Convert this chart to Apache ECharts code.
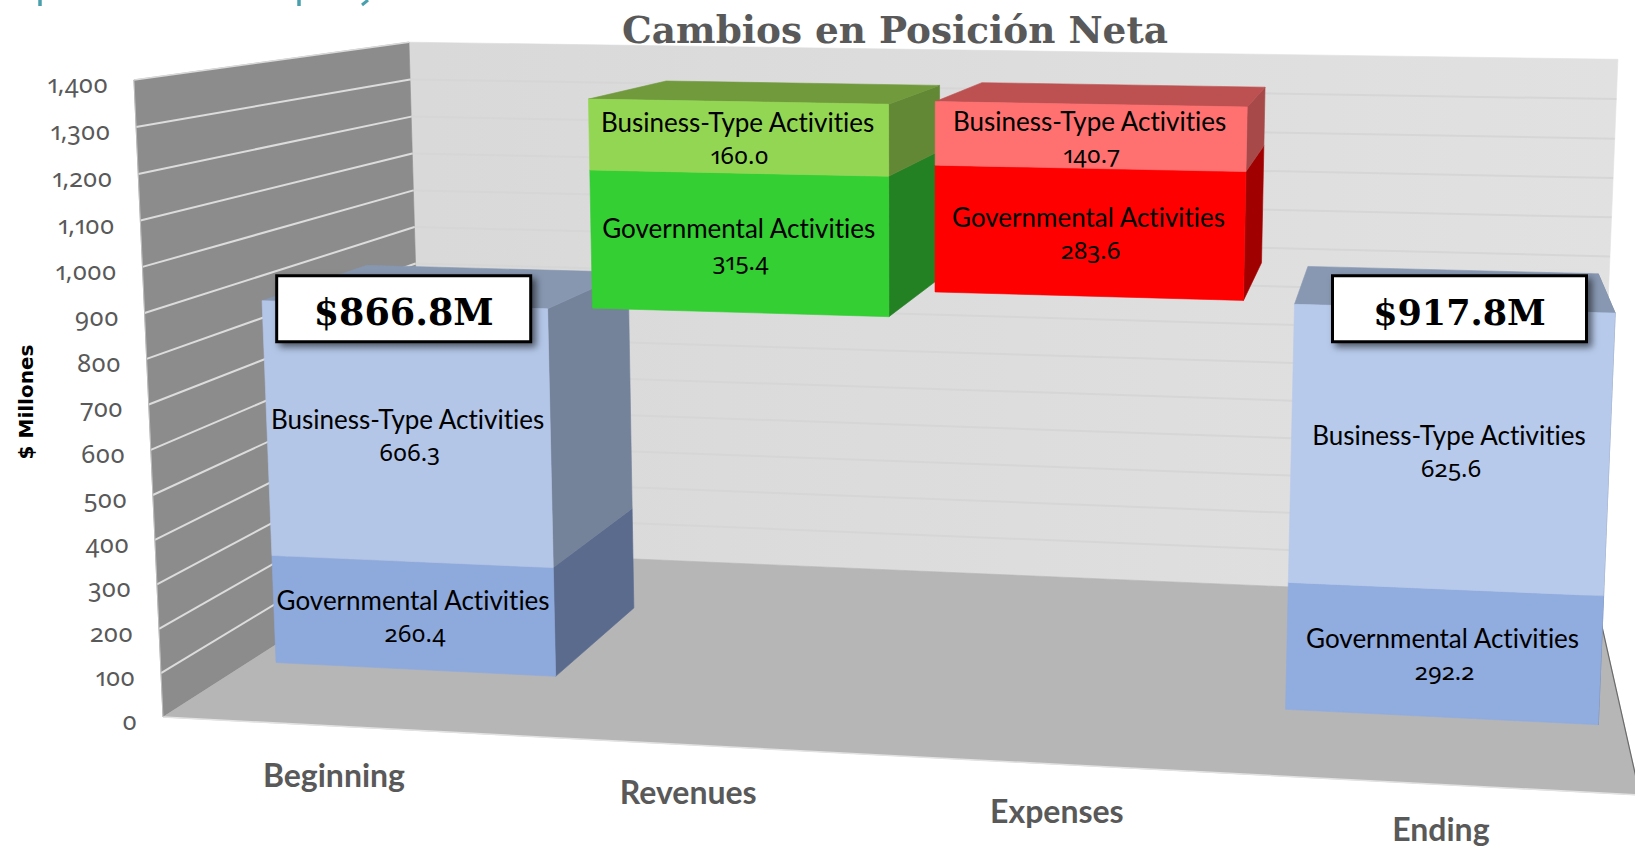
<!DOCTYPE html>
<html><head><meta charset="utf-8">
<style>
html,body{margin:0;padding:0;background:#fff}
#c{width:1635px;height:847px}
svg text{font-feature-settings:"onum" 1,"pnum" 1,"liga" 0,"clig" 0 !important;font-variant-ligatures:none !important;font-variant-numeric:oldstyle-nums proportional-nums !important}
</style>
<script src="https://cdn.jsdelivr.net/npm/echarts@6/dist/echarts.min.js"></script>
</head><body><div id="c"></div>
<script>
const categories = ['Beginning','Revenues','Expenses','Ending'];
const governmental = [260.4,315.4,283.6,292.2];
const businessType = [606.3,160.0,140.7,625.6];
const floatBase = [0,866.8,917.8,0];
const totalLabels = ['$866.8M',null,null,'$917.8M'];
const totalValues = [866.8,null,null,917.8];
const yTicks = [0,100,200,300,400,500,600,700,800,900,1000,1100,1200,1300,1400];
const seriesNames = ['Governmental Activities','Business-Type Activities'];
const yAxisTitle = '$ Millones';
const chartTitle = 'Cambios en Posición Neta';

const W=1635,H=847;
// perspective camera for the 3D plot box: u across, t into depth, v up
const CAM={a:1349.7,b:370.1,p:-34,c:163,d:16.3,e:-25.5,q:-640,f:717,g:-0.0776,h:0.2573,r:-0.037};
function cam(u,t,v){
  const w=CAM.g*u+CAM.h*t+CAM.r*v+1;
  return [(CAM.a*u+CAM.b*t+CAM.p*v+CAM.c)/w,(CAM.d*u+CAM.e*t+CAM.q*v+CAM.f)/w];
}
const DF=0.30,DB=0.70,HALF=0.108;
const NUDGE=[[0,3],[-1,1],[-2.5,-2.5],[-1,0]];
const BOX_SHIFT=[[0,3],null,null,[5,-4]];
const BOX_FONT=[36.5,null,null,35];
const CAT_SHIFT=[48,47,46,44];
const palette=[
 {f:['#8eaadc','#b3c6e7'],s:['#5a6b8e','#74829a'],t:'#8797b0'},
 {f:['#33cf33','#93d653'],s:['#238023','#628735'],t:'#709a3c'},
 {f:['#ff0000','#ff7070'],s:['#a10000','#a84949'],t:'#bd5151'},
 {f:['#91acdf','#b7caeb'],s:['#5a6b8e','#74829a'],t:'#8898b2'}
];
const LABEL_FONT='Lato',NUM_FONT='"Noto Sans"';
function poly(pts,fill,z){return {type:'polygon',z2:z||0,shape:{points:pts},style:{fill:fill,stroke:fill,lineWidth:0.6}};}
function line(a,b,color,width,z){return {type:'line',z2:z||1,shape:{x1:a[0],y1:a[1],x2:b[0],y2:b[1]},style:{stroke:color,lineWidth:width}};}
function uOf(api,x){const r=api.coord([0,0]);const s=api.size([1,0])[0];return (x-(r[0]-s/2))/(s*categories.length);}

const rows=[];
categories.forEach((c,i)=>{
  const b=floatBase[i];
  rows.push([i,b,b+governmental[i],0,governmental[i]]);
  rows.push([i,b+governmental[i],b+governmental[i]+businessType[i],1,businessType[i]]);
});
const maxY=yTicks[yTicks.length-1];

function renderFrame(params,api){
  const children=[];
  const vOf=val=>val/maxY;
  const wallGrad={type:'linear',x:424,y:0,x2:1618,y2:0,global:true,colorStops:[{offset:0,color:'#d9d9d9'},{offset:1,color:'#e1e1e1'}]};
  children.push(poly([cam(0,1,0),cam(0,1,1),cam(1,1,1),cam(1,1,0)],wallGrad));
  children.push(poly([cam(0,0,0),cam(0,0,1),cam(0,1,1),cam(0,1,0)],'#8c8c8c'));
  children.push(poly([cam(0,0,0),cam(1,0,0),cam(1,1,0),cam(0,1,0)],'#b6b6b6'));
  yTicks.forEach(tk=>{
    const v=vOf(tk);
    if(tk>0&&tk<maxY){
      children.push(line(cam(0,1,v),cam(1,1,v),'#d6d6d6',2));
      children.push(line(cam(0,0,v),cam(0,1,v),'#dcdcdc',2));
    }
    const p=cam(0,0,v);
    children.push({type:'text',z2:3,style:{x:p[0]-26,y:p[1]+3,text:tk.toLocaleString('en-US'),align:'right',verticalAlign:'middle',fill:'#595959',font:'400 25px '+NUM_FONT}});
  });
  children.push(line(cam(0,0,1),cam(0,1,1),'#d9d9d9',1.5));
  children.push(line(cam(0,0,0),cam(1,0,0),'#e2e2e2',1.5));
  children.push(line(cam(0,0,0),cam(0,0,1),'#bdbdbd',1));
  children.push(line(cam(1,0,0),cam(1,1,0),'#6a6a6a',1.2));
  categories.forEach((c,i)=>{
    const u=uOf(api,api.coord([i,0])[0]);
    const p=cam(u,0,0);
    children.push({type:'text',z2:3,style:{x:p[0]-1,y:p[1]+CAT_SHIFT[i],text:c,align:'center',verticalAlign:'middle',fill:'#595959',font:'700 32px '+LABEL_FONT}});
  });
  return {type:'group',children};
}
function renderBar(params,api){
  const i=api.value(0),y0=api.value(1),y1=api.value(2),sIdx=api.value(3),val=api.value(4);
  const c0=api.coord([i,y0]),c1=api.coord([i,y1]);
  const u0=uOf(api,c0[0])-HALF,u1=uOf(api,c0[0])+HALF;
  const v0=(H-c0[1])/H,v1=(H-c1[1])/H;
  const pal=palette[i];
  const ch=[];
  ch.push(poly([cam(u1,DF,v0),cam(u1,DB,v0),cam(u1,DB,v1),cam(u1,DF,v1)],pal.s[sIdx]));
  if(sIdx===1) ch.push(poly([cam(u0,DF,v1),cam(u1,DF,v1),cam(u1,DB,v1),cam(u0,DB,v1)],pal.t));
  ch.push(poly([cam(u0,DF,v0),cam(u1,DF,v0),cam(u1,DF,v1),cam(u0,DF,v1)],pal.f[sIdx]));
  const m=cam((u0+u1)/2,DF,(v0+v1)/2);
  ch.push({type:'text',z2:3,style:{x:m[0],y:m[1]-15.5,text:seriesNames[sIdx],align:'center',verticalAlign:'middle',fill:'#000',font:'400 26px '+LABEL_FONT}});
  ch.push({type:'text',z2:3,style:{x:m[0]+2,y:m[1]+17,text:val.toFixed(1),align:'center',verticalAlign:'middle',fill:'#000',font:'400 24px '+NUM_FONT}});
  return {type:'group',x:NUDGE[i][0],y:NUDGE[i][1],children:ch};
}
function renderTotal(params,api){
  const i=api.value(0),val=api.value(1);
  const c=api.coord([i,val]);
  const u=uOf(api,c[0]);
  const p=cam(u,DF,(H-c[1])/H);
  const bw=254,bh=66,sx=BOX_SHIFT[i][0],sy=BOX_SHIFT[i][1];
  return {type:'group',x:sx,y:sy,children:[
    {type:'rect',z2:4,shape:{x:p[0]-bw/2,y:p[1]+4-bh/2,width:bw,height:bh},style:{fill:'#fff',stroke:'#000',lineWidth:3,shadowBlur:7,shadowOffsetX:4,shadowOffsetY:4,shadowColor:'rgba(0,0,0,0.55)'}},
    {type:'text',z2:5,style:{x:p[0],y:p[1]+8,text:totalLabels[i],align:'center',verticalAlign:'middle',fill:'#000',font:'700 '+BOX_FONT[i]+'px "DejaVu Serif"'}}
  ]};
}
const chart=echarts.init(document.getElementById('c'),null,{renderer:'svg',width:W,height:H});
chart.setOption({
  animation:false,
  backgroundColor:'#fff',
  title:{text:chartTitle,left:890,top:6,textAlign:'center',textStyle:{fontFamily:'DejaVu Serif',fontWeight:'bold',fontSize:37.4,color:'#595959'}},
  grid:{left:0,right:0,top:0,bottom:0},
  xAxis:{type:'category',data:categories,show:false},
  yAxis:{type:'value',min:0,max:maxY,interval:100,show:false},
  graphic:[
    {type:'text',rotation:Math.PI/2,x:26,y:402,style:{text:yAxisTitle,align:'center',verticalAlign:'middle',fill:'#000',font:'700 20px "DejaVu Sans"'}},
    {type:'line',shape:{x1:40,y1:0,x2:40,y2:6},style:{stroke:'#4a9fad',lineWidth:3.5}},
    {type:'line',shape:{x1:299,y1:0,x2:299,y2:6},style:{stroke:'#4a9fad',lineWidth:3.5}},
    {type:'line',shape:{x1:368,y1:0,x2:362,y2:5},style:{stroke:'#4a9fad',lineWidth:3}}
  ],
  series:[
    {type:'custom',name:'frame',data:[[0]],renderItem:renderFrame,clip:false,silent:true,z:1},
    {type:'custom',name:'bars',data:rows,renderItem:renderBar,clip:false,silent:true,z:2,encode:{x:0,y:[1,2]}},
    {type:'custom',name:'totals',data:categories.map((c,i)=>[i,totalValues[i]]).filter(r=>r[1]!==null),renderItem:renderTotal,clip:false,silent:true,z:3}
  ]
});
</script></body></html>
